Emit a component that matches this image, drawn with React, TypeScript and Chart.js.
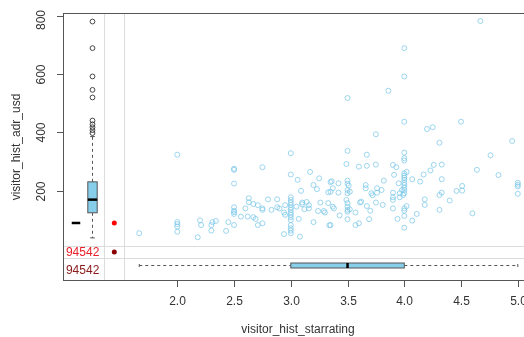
import React, { useEffect, useRef } from "react";
import { Chart, registerables } from "chart.js";

Chart.register(...registerables);

// ---- data ----
const starRating = [
  2.0, 2.5, 2.5, 2.75, 2.5, 2.63, 2.63, 2.67, 2.71, 2.75, 2.6, 2.5, 2.5, 2.5, 2.5, 2.56, 2.62, 2.67, 2.69, 2.71,
  2.75, 2.45, 2.5, 2.43, 2.0, 2.0, 2.0, 2.0, 2.2, 2.21, 2.3, 2.31, 2.34, 2.3, 2.18, 1.665,
  3.0, 3.0, 3.5, 3.67, 3.49, 3.6, 3.67, 3.75, 3.9, 3.17, 3.06, 3.25, 3.35, 3.36, 3.42, 3.5, 3.5, 3.51, 3.2, 3.23,
  3.09, 3.33, 3.35, 3.37, 3.42, 3.5, 3.5, 3.52, 3.66, 3.66, 3.71, 3.72, 3.76, 3.76, 3.8, 3.82, 3.9, 2.8, 2.88, 2.75,
  2.83, 2.88, 2.9, 2.95, 2.94, 2.95,
  3.0, 3.0, 3.0, 3.0, 3.0, 3.0, 3.0, 3.0, 3.0, 3.0, 3.0, 3.0, 3.0, 3.0,
  3.05, 3.1, 3.1, 3.14, 3.16, 3.16, 3.12, 3.07, 2.94, 3.08, 3.2, 3.26, 3.24, 3.29, 3.3, 3.33, 3.37, 3.38, 3.35, 3.43,
  3.49, 3.5, 3.5, 3.5, 3.5, 3.52, 3.5, 3.57, 3.57, 3.6, 3.61, 3.62, 3.67, 3.7, 3.69, 3.75, 3.81, 3.9, 3.9,
  4.31, 4.95, 4.0, 4.0, 4.0, 3.93, 4.26, 4.33, 4.23, 4.17,
  4.0, 4.0, 4.0, 4.0, 4.0, 4.0, 4.0, 4.0, 4.0,
  4.02, 3.91, 4.07, 3.95, 4.14, 4.33, 4.76, 4.64, 4.83, 5.0, 5.0, 5.0, 5.0, 4.51, 4.51, 4.46, 3.98, 3.96, 3.9, 3.96,
  3.99, 4.33, 4.31, 4.4, 4.18, 4.18, 4.0, 4.0, 4.02, 4.11, 4.31, 4.6, 4.0, 3.94, 4.07, 4.0,
  4.67, 4.0, 4.0, 3.86, 3.5, 4.0, 4.5, 4.2, 4.25, 3.75, 3.34,
];
const adrUsd = [
  324, 272, 276, 281, 225, 175, 161, 155, 151, 140, 140, 144, 132, 127, 121, 112, 112, 110, 104, 83,
  89, 93, 83, 63, 93, 86, 78, 60, 99, 83, 83, 93, 97, 64, 41, 55,
  329, 256, 337, 324, 292, 283, 286, 290, 289, 265, 238, 243, 230, 233, 226, 235, 225, 218, 220, 206,
  200, 195, 197, 209, 194, 203, 192, 197, 220, 209, 192, 185, 194, 209, 203, 235, 194, 171, 171, 135,
  135, 144, 140, 151, 126, 118,
  178, 169, 160, 152, 143, 135, 125, 118, 110, 100, 83, 72, 64, 55,
  146, 160, 154, 162, 151, 140, 137, 104, 52, 43, 93, 160, 131, 131, 126, 158, 146, 140, 83, 116,
  169, 158, 146, 135, 129, 137, 103, 126, 83, 89, 160, 163, 148, 132, 103, 160, 152, 169, 140,
  365, 371, 331, 312, 304, 281, 289, 290, 270, 256,
  260, 252, 245, 238, 228, 220, 211, 203, 192,
  265, 255, 240, 226, 232, 240, 322, 272, 254, 228, 221, 215, 190, 217, 201, 200, 203, 192, 178, 178,
  186, 194, 186, 167, 171, 152, 140, 132, 148, 121, 135, 123, 114, 104, 98, 74,
  782, 689, 592, 543, 518, 437, 437, 412, 418, 394, 82,
];

const xTickValues = [2.0, 2.5, 3.0, 3.5, 4.0, 4.5, 5.0];
const yTickValues = [200, 400, 600, 800];

// box statistics: [lower whisker, Q1, median, Q3, upper whisker]
const adrBoxStats = [39, 125, 170, 231, 386];
const adrOutliers = [398, 408, 418, 428, 441, 520, 546, 592, 689, 780];
const starBoxStats = [1.665, 3.0, 3.5, 4.0, 5.0];

// adr values of records whose star rating is missing
const adrWhereStarMissing = [90];
// counts of missing values (missing star rating / missing both)
const missingCountLabels = ["94542", "94542"];

const xTitle = "visitor_hist_starrating";
const yTitle = "visitor_hist_adr_usd";

// ---- drawing constants (layout) ----
const CANVAS_W = 545;
const CANVAS_H = 337;
const FONT = '12px "Liberation Sans", Arial, sans-serif';
const TEXT = "#333333";
const AXIS = "#555555";
const BOX_FILL = "#87CEEB";
const BOX_LINE = "#555555";

const marginPlugin = {
  id: "marginPlot",
  beforeDatasetsDraw(chart: any) {
    const { ctx, chartArea: a, scales } = chart;
    const x = scales.x;
    const y = scales.y;
    ctx.save();
    ctx.strokeStyle = "#dcdcdc";
    ctx.lineWidth = 1;
    for (const v of [1.357, 1.533]) {
      const px = Math.round(x.getPixelForValue(v)) + 0.5;
      ctx.beginPath();
      ctx.moveTo(px, a.top);
      ctx.lineTo(px, a.bottom);
      ctx.stroke();
    }
    for (const v of [11.3, -28.8]) {
      const py = Math.round(y.getPixelForValue(v)) + 0.5;
      ctx.beginPath();
      ctx.moveTo(a.left, py);
      ctx.lineTo(a.right, py);
      ctx.stroke();
    }
    ctx.restore();
  },
  afterDatasetsDraw(chart: any) {
    const { ctx, chartArea: a, scales } = chart;
    const x = scales.x;
    const y = scales.y;
    ctx.save();

    const line = (x1: number, y1: number, x2: number, y2: number) => {
      ctx.beginPath();
      ctx.moveTo(x1, y1);
      ctx.lineTo(x2, y2);
      ctx.stroke();
    };

    // ---- left (vertical) boxplot of adr ----
    const cx = Math.round(x.getPixelForValue(1.246)) + 0.5;
    const hw = 4.7;
    const [lo, q1, med, q3, hi] = adrBoxStats.map((v) => y.getPixelForValue(v));
    ctx.strokeStyle = BOX_LINE;
    ctx.lineWidth = 1;
    ctx.setLineDash([3, 3]);
    line(cx, q1, cx, lo);
    line(cx, q3, cx, hi);
    ctx.setLineDash([]);
    line(cx - 2.3, lo, cx + 2.3, lo);
    line(cx - 2.3, hi, cx + 2.3, hi);
    ctx.fillStyle = BOX_FILL;
    ctx.fillRect(cx - hw, q3, hw * 2, q1 - q3);
    ctx.strokeRect(cx - hw, q3, hw * 2, q1 - q3);
    ctx.strokeStyle = "#000";
    ctx.lineWidth = 2.5;
    line(cx - hw, med, cx + hw, med);
    ctx.lineWidth = 0.9;
    ctx.strokeStyle = "#333";
    for (const v of adrOutliers) {
      ctx.beginPath();
      ctx.arc(cx, y.getPixelForValue(v), 2.4, 0, Math.PI * 2);
      ctx.stroke();
    }

    // collapsed box of adr where star rating missing
    ctx.strokeStyle = "#000";
    ctx.lineWidth = 2.5;
    for (const v of adrWhereStarMissing) {
      const py = y.getPixelForValue(v);
      line(x.getPixelForValue(1.07), py, x.getPixelForValue(1.145), py);
    }

    // red points (adr where star rating missing)
    const mx = x.getPixelForValue(1.445);
    ctx.fillStyle = "#ff0000";
    for (const v of adrWhereStarMissing) {
      ctx.beginPath();
      ctx.arc(mx, y.getPixelForValue(v), 2.5, 0, Math.PI * 2);
      ctx.fill();
    }
    // both missing
    const bothY = y.getPixelForValue(-9.3);
    ctx.fillStyle = "#8b0000";
    ctx.beginPath();
    ctx.arc(mx, bothY, 2.5, 0, Math.PI * 2);
    ctx.fill();

    // missing count labels
    ctx.font = FONT;
    ctx.textAlign = "right";
    ctx.textBaseline = "middle";
    const lx = x.getPixelForValue(1.313);
    ctx.fillStyle = "#e8202a";
    ctx.fillText(missingCountLabels[0], lx, bothY + 1);
    ctx.fillStyle = "#8b1a1a";
    ctx.fillText(missingCountLabels[1], lx, y.getPixelForValue(-71) + 1);

    // ---- bottom (horizontal) boxplot of star rating ----
    const cy = Math.round(y.getPixelForValue(-52.8)) + 0.5;
    const hh = 2.5;
    const [slo, sq1, smed, sq3, shi] = starBoxStats.map((v) => x.getPixelForValue(v));
    ctx.strokeStyle = BOX_LINE;
    ctx.lineWidth = 1;
    ctx.setLineDash([3, 3]);
    line(slo, cy, sq1, cy);
    line(sq3, cy, shi, cy);
    ctx.setLineDash([]);
    line(slo, cy - 1.5, slo, cy + 1.5);
    line(shi, cy - 1.5, shi, cy + 1.5);
    ctx.fillStyle = BOX_FILL;
    ctx.fillRect(sq1, cy - hh, sq3 - sq1, hh * 2);
    ctx.strokeRect(sq1, cy - hh, sq3 - sq1, hh * 2);
    ctx.strokeStyle = "#000";
    ctx.lineWidth = 2.5;
    line(smed, cy - hh, smed, cy + hh);

    // ---- frame ----
    ctx.strokeStyle = AXIS;
    ctx.lineWidth = 1;
    ctx.strokeRect(a.left + 0.5, a.top + 0.5, a.right - a.left - 1, a.bottom - a.top - 1);

    // ---- x axis ----
    ctx.fillStyle = TEXT;
    ctx.font = FONT;
    ctx.textAlign = "center";
    ctx.textBaseline = "middle";
    for (const v of xTickValues) {
      const px = Math.round(x.getPixelForValue(v)) + 0.5;
      ctx.strokeStyle = AXIS;
      line(px, a.bottom, px, a.bottom + 6);
      ctx.fillText(v.toFixed(1), px, a.bottom + 21);
    }
    ctx.fillText(xTitle, (a.left + a.right) / 2, a.bottom + 49);

    // ---- y axis ----
    for (const v of yTickValues) {
      const py = Math.round(y.getPixelForValue(v)) + 0.5;
      ctx.strokeStyle = AXIS;
      line(a.left - 6, py, a.left, py);
      const label = String(v);
      const w = ctx.measureText(label).width;
      const c = Math.max(py, a.top + w / 2 - 3);
      ctx.save();
      ctx.translate(a.left - 21, c);
      ctx.rotate(-Math.PI / 2);
      ctx.fillText(label, 0, 0);
      ctx.restore();
    }
    ctx.save();
    ctx.translate(a.left - 46, (a.top + a.bottom) / 2);
    ctx.rotate(-Math.PI / 2);
    ctx.fillText(yTitle, 0, 0);
    ctx.restore();

    ctx.restore();
  },
};

export default function App() {
  const canvasRef = useRef<HTMLCanvasElement | null>(null);

  useEffect(() => {
    const canvas = canvasRef.current;
    if (!canvas) return;
    const chart = new Chart(canvas, {
      type: "scatter",
      data: {
        datasets: [
          {
            data: starRating.map((s, i) => ({ x: s, y: adrUsd[i] })),
            pointStyle: "circle",
            pointRadius: 2.5,
            pointBorderWidth: 0.9,
            borderColor: "rgba(120,198,232,0.8)",
            backgroundColor: "rgba(0,0,0,0)",
            showLine: false,
          },
        ],
      },
      options: {
        responsive: false,
        animation: false,
        devicePixelRatio: 1,
        layout: { padding: { left: 63, top: 13, right: CANVAS_W - 533, bottom: CANVAS_H - 281 } },
        scales: {
          x: { type: "linear", display: false, min: 0.993, max: 5.134 },
          y: { type: "linear", display: false, min: -108.7, max: 809.3 },
        },
        plugins: {
          legend: { display: false },
          tooltip: { enabled: false },
        },
      },
      plugins: [marginPlugin],
    });
    return () => chart.destroy();
  }, []);

  return (
    <div
      style={{
        position: "fixed",
        left: 0,
        top: 0,
        width: 524,
        height: 337,
        overflow: "hidden",
        background: "#ffffff",
      }}
    >
      <canvas ref={canvasRef} width={CANVAS_W} height={CANVAS_H} style={{ display: "block" }} />
    </div>
  );
}
